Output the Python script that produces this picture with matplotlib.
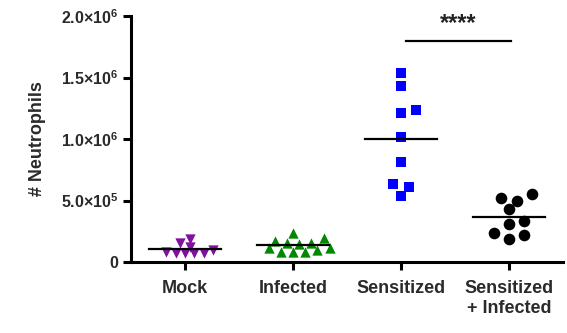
import matplotlib
matplotlib.use("Agg")
import matplotlib.pyplot as plt
import numpy as np

plt.rcParams['font.family'] = ['Liberation Sans', 'DejaVu Sans']
plt.rcParams['mathtext.fontset'] = 'custom'
plt.rcParams['mathtext.rm'] = 'Liberation Sans:bold'
plt.rcParams['mathtext.it'] = 'Liberation Sans:bold'
plt.rcParams['mathtext.bf'] = 'Liberation Sans:bold'

# data (cells per sample)
groups = ["Mock", "Infected", "Sensitized", "Sensitized\n+ Infected"]
mock = [0.081, 0.073, 0.154, 0.073, 0.073, 0.187, 0.073, 0.098, 0.122]
infected = [0.195, 0.154, 0.114, 0.098, 0.081, 0.236, 0.081, 0.081,
            0.114, 0.146, 0.154, 0.171]
sensitized = [1.534, 1.430, 1.236, 1.214, 1.019, 0.815, 0.632, 0.612, 0.537]
sens_inf = [0.518, 0.431, 0.496, 0.550, 0.336, 0.306, 0.233, 0.185, 0.220]
scale = 1e6

yticks = [0, 0.5e6, 1.0e6, 1.5e6, 2.0e6]
ytick_labels = ["0", "5.0×10$^{5}$", "1.0×10$^{6}$", "1.5×10$^{6}$", "2.0×10$^{6}$"]

series = [mock, infected, sensitized, sens_inf]
markers = ["v", "^", "s", "o"]
colors = ["#8010A0", "#008800", "#0000FF", "#000000"]
sizes = [55, 55, 55, 70]
spread = [6.5, 8.5, 10.5, 10.5]   # px spacing used by the swarm


def swarm_offsets(ax, x0, vals, size_px):
    # simple beeswarm: push points sideways until they stop overlapping
    to_px = ax.transData.transform
    ux = to_px((1, 0))[0] - to_px((0, 0))[0]
    ys = np.array([to_px((x0, v))[1] for v in vals])
    step = size_px * 0.72
    placed = []
    offs = np.zeros(len(vals))
    for i in np.argsort(vals):
        k = 0
        while True:
            cand = [0] if k == 0 else [k, -k]
            ok = None
            for c in cand:
                dx = c * step
                if all(np.hypot(dx - pdx, ys[i] - py) >= size_px for pdx, py in placed):
                    ok = dx
                    break
            if ok is not None:
                break
            k += 1
        placed.append((ok, ys[i]))
        offs[i] = ok / ux
    return offs


fig = plt.figure(figsize=(5.67, 3.33), dpi=100)
ax = fig.add_axes([0.231, 0.213, 0.762, 0.739])
ax.set_xlim(-0.5, 3.5)
ax.set_ylim(0, 2.0e6)

for i, (vals, m, c, s) in enumerate(zip(series, markers, colors, sizes)):
    v = np.array(vals) * scale
    offs = swarm_offsets(ax, i, v, spread[i])
    ax.scatter(i + offs, v, marker=m, s=s, color=c, linewidths=0, zorder=3)
    ax.plot([i - 0.33, i + 0.33], [v.mean()] * 2, color="black", lw=1.6, zorder=4)

# significance bar
ax.plot([2.05, 3.02], [1.8e6, 1.8e6], color="black", lw=1.6, clip_on=False)
ax.text(2.53, 1.935e6, "****", ha="center", va="center", fontsize=17, fontweight="bold",
        color="#222222")

ax.set_xticks(range(len(groups)))
ax.set_xticklabels(groups, fontsize=13, fontweight="bold", color="#2a2a2a")
ax.set_yticks(yticks)
ax.set_yticklabels(ytick_labels, fontsize=11.5, fontweight="bold", color="#2a2a2a")
ax.set_ylabel("# Neutrophils", fontsize=13, fontweight="bold", color="#2a2a2a", labelpad=11)

for side in ["top", "right"]:
    ax.spines[side].set_visible(False)
for side in ["left", "bottom"]:
    ax.spines[side].set_linewidth(2.2)
ax.tick_params(axis="both", width=2.2, length=6)
ax.tick_params(axis="x", pad=7)
ax.tick_params(axis="y", pad=3)

fig.savefig("out.png", dpi=100)
